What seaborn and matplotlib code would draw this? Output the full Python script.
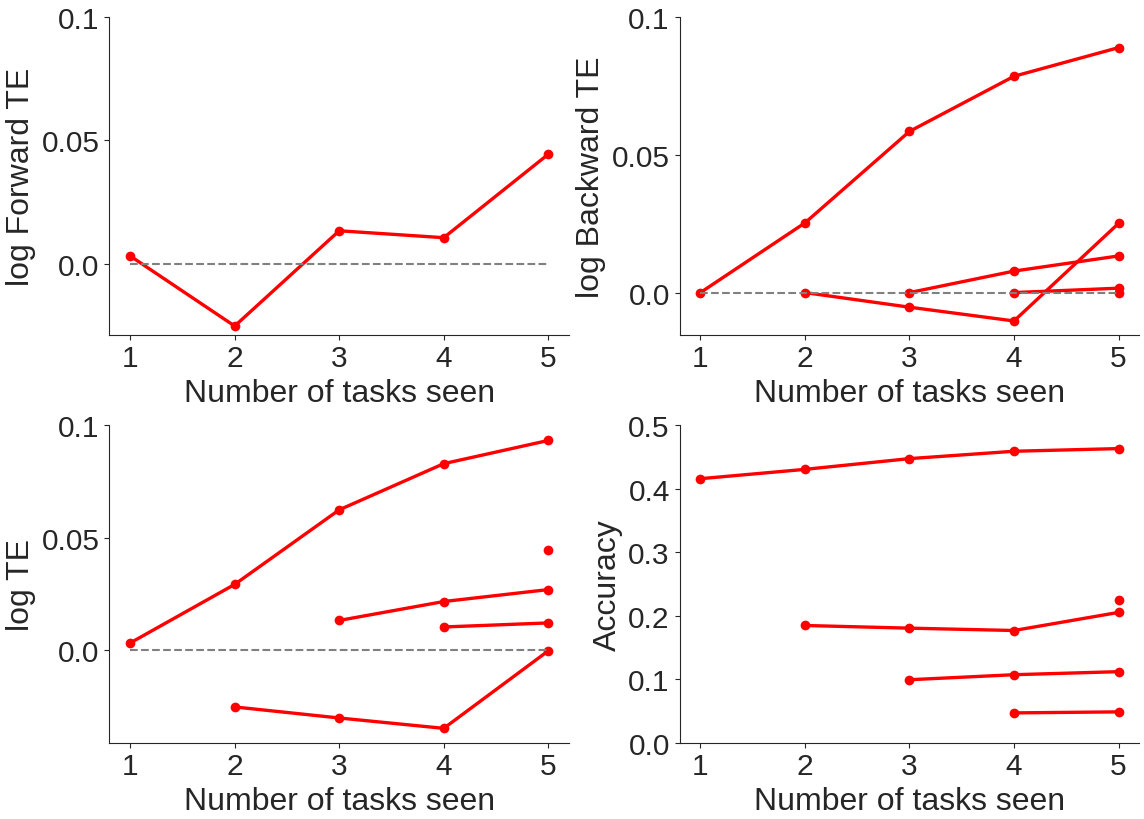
import seaborn as sns
import matplotlib.pyplot as plt
import pandas as pd

sns.set_style("ticks")
plt.rcParams['font.family'] = ['Liberation Sans', 'DejaVu Sans']

tasks = [1, 2, 3, 4, 5]

# forward transfer efficiency, one value per task
fte = [0.0032, -0.0252, 0.0134, 0.0106, 0.0444]

# backward TE, one curve per task (starting at that task)
bte = [
    [0.0, 0.0253, 0.0585, 0.0785, 0.0889],
    [0.0, -0.0053, -0.0103, 0.0251],
    [0.0, 0.0078, 0.0133],
    [0.0, 0.0016],
    [0.0],
]

# overall TE
te = [
    [0.0033, 0.0293, 0.0624, 0.0829, 0.0932],
    [-0.0251, -0.0300, -0.0346, -0.0002],
    [0.0133, 0.0217, 0.0270],
    [0.0104, 0.0122],
    [0.0444],
]

# accuracy per task as more tasks are seen
acc = [
    [0.4157, 0.4304, 0.4473, 0.4589, 0.4631],
    [0.1846, 0.1804, 0.1767, 0.2052],
    [0.0992, 0.1071, 0.1119],
    [0.0470, 0.0486],
    [0.2242],
]


def to_long(curves):
    rows = []
    for i, c in enumerate(curves):
        for j, v in enumerate(c):
            rows.append({"task": i, "seen": tasks[i + j], "val": v})
    return pd.DataFrame(rows)


fig, axes = plt.subplots(2, 2, figsize=(11.44, 8.2), dpi=100)
fig.subplots_adjust(left=0.0955, right=0.996, top=0.978, bottom=0.093,
                    wspace=0.24, hspace=0.285)

line_kw = dict(color="red", marker="o", markersize=7, markeredgewidth=0,
               linewidth=2.4, estimator=None, legend=False)

# forward
ax = axes[0, 0]
sns.lineplot(x=tasks, y=fte, ax=ax, **line_kw)
ax.hlines(0, 1, 5, colors="gray", linestyles="dashed", linewidth=1.5)
ax.set_ylabel("log Forward TE")

# backward
ax = axes[0, 1]
sns.lineplot(data=to_long(bte), x="seen", y="val", units="task", ax=ax, **line_kw)
ax.hlines(0, 1, 5, colors="gray", linestyles="dashed", linewidth=1.5)
ax.set_ylabel("log Backward TE")

# TE
ax = axes[1, 0]
sns.lineplot(data=to_long(te), x="seen", y="val", units="task", ax=ax, **line_kw)
ax.hlines(0, 1, 5, colors="gray", linestyles="dashed", linewidth=1.5)
ax.set_ylabel("log TE")

# accuracy
ax = axes[1, 1]
sns.lineplot(data=to_long(acc), x="seen", y="val", units="task", ax=ax, **line_kw)
ax.set_ylabel("Accuracy")
ax.set_ylim(0, 0.5)
ax.set_yticks([0, 0.1, 0.2, 0.3, 0.4, 0.5])

for k, ax in enumerate(axes.flat):
    if k < 3:
        ax.set_ylim(top=0.1)
        ax.set_yticks([0, 0.05, 0.1])
        ax.set_yticklabels(["0.0", "0.05", "0.1"])
    ax.set_xticks(tasks)
    ax.set_xlabel("Number of tasks seen", fontsize=23)
    ax.yaxis.label.set_size(23)
    ax.tick_params(labelsize=21.5)
    sns.despine(ax=ax)

fig.savefig("out.png", dpi=100)
